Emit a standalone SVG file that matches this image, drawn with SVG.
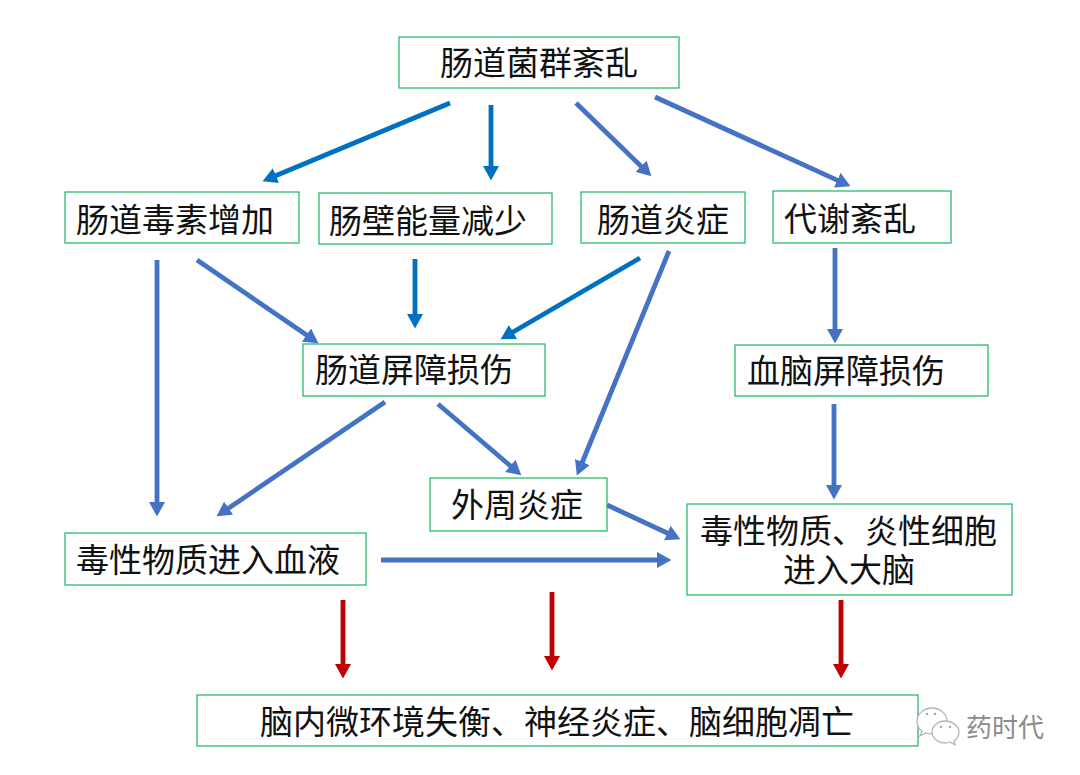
<svg xmlns="http://www.w3.org/2000/svg" width="1080" height="775" viewBox="0 0 1080 775">
<style>
.b{fill:#fff;stroke:#00b050;stroke-width:1.1}
.t{font-family:"Noto Sans CJK SC","Noto Sans",sans-serif;font-size:33px;fill:#111}
.a{fill:none;stroke-width:4.8}
.c1{stroke:#0070c0;marker-end:url(#m1)}
.c2{stroke:#4472c4;marker-end:url(#m2)}
.c3{stroke:#c00000;marker-end:url(#m3)}
.w{fill:#fff;stroke:#b4b4b4;stroke-width:1.3}
.e{fill:#a8a8a8}
</style>
<defs>
<marker id="m1" markerUnits="userSpaceOnUse" markerWidth="15" markerHeight="16" refX="1" refY="8" orient="auto"><path d="M0,0L14.5,8L0,16z" fill="#0070c0"/></marker>
<marker id="m2" markerUnits="userSpaceOnUse" markerWidth="15" markerHeight="16" refX="1" refY="8" orient="auto"><path d="M0,0L14.5,8L0,16z" fill="#4472c4"/></marker>
<marker id="m3" markerUnits="userSpaceOnUse" markerWidth="15" markerHeight="16" refX="1" refY="8" orient="auto"><path d="M0,0L14.5,8L0,16z" fill="#c00000"/></marker>
</defs>
<rect width="1080" height="775" fill="#fff"/>
<g id="connectors">
<path class="a c1" d="M450,103L275,176"/>
<path class="a c1" d="M491,105V167"/>
<path class="a c2" d="M576,103L641.7,166.9"/>
<path class="a c2" d="M655,97L838.2,180.6"/>
<path class="a c2" d="M157,260V503"/>
<path class="a c2" d="M197,260L307.3,335.6"/>
<path class="a c1" d="M415,259V315"/>
<path class="a c1" d="M640,258L512.2,332.5"/>
<path class="a c2" d="M669,251L582,463"/>
<path class="a c2" d="M835,248V330"/>
<path class="a c2" d="M385,402L227.8,508.7"/>
<path class="a c2" d="M438,404L511.1,466.5"/>
<path class="a c2" d="M834,404V486"/>
<path class="a c2" d="M607,505L668.2,533.5"/>
<path class="a c2" d="M381,560H658"/>
<path class="a c3" d="M343,600V665"/>
<path class="a c3" d="M552,592V657"/>
<path class="a c3" d="M841,600V665"/>
</g>
<g id="n1"><rect class="b" x="399" y="37" width="280" height="51"/><text class="t" x="440" y="75">肠道菌群紊乱</text></g>
<g id="n2"><rect class="b" x="65" y="192" width="234" height="51"/><text class="t" x="76" y="232">肠道毒素增加</text></g>
<g id="n3"><rect class="b" x="319" y="193" width="233" height="51"/><text class="t" x="329" y="233">肠壁能量减少</text></g>
<g id="n4"><rect class="b" x="581" y="192" width="164" height="51"/><text class="t" x="597" y="232">肠道炎症</text></g>
<g id="n5"><rect class="b" x="773" y="191" width="178" height="52"/><text class="t" x="784" y="231">代谢紊乱</text></g>
<g id="n6"><rect class="b" x="303" y="344" width="242" height="52"/><text class="t" x="315" y="382">肠道屏障损伤</text></g>
<g id="n7"><rect class="b" x="735" y="345" width="253" height="51"/><text class="t" x="747" y="383">血脑屏障损伤</text></g>
<g id="n8"><rect class="b" x="430" y="478" width="177" height="53"/><text class="t" x="451" y="517">外周炎症</text></g>
<g id="n9"><rect class="b" x="65" y="533" width="301" height="52"/><text class="t" x="76" y="572">毒性物质进入血液</text></g>
<g id="n10"><rect class="b" x="687" y="504" width="325" height="91"/><text class="t" x="700" y="543">毒性物质、炎性细胞</text><text class="t" x="783" y="582">进入大脑</text></g>
<g id="n11"><rect class="b" x="197" y="695" width="721" height="51"/><text class="t" x="260" y="734">脑内微环境失衡、神经炎症、脑细胞凋亡</text></g>
<g id="watermark">
<path class="w" d="M932,708c-8,0-15,6-15,13c0,4,2,8,5,10l-2,5l6-3c2,.6,4,1,6,1c8,0,15-6,15-13s-7-13-15-13z"/>
<circle class="e" cx="927" cy="714" r="1.3"/><circle class="e" cx="935" cy="714" r="1.3"/>
<path class="w" d="M945,721c-7,0-13,5-13,11s6,11,13,11c2,0,3,0,5-1l5,3l-1-4c3-2,5-5,5-9c0-6-7-11-14-11z"/>
<circle class="e" cx="941" cy="727" r="1.2"/><circle class="e" cx="950" cy="727" r="1.2"/>
<text x="966" y="737" style="font-family:'Noto Sans CJK SC',sans-serif;font-size:26px;fill:#8c8c8c">药时代</text>
</g>
</svg>
